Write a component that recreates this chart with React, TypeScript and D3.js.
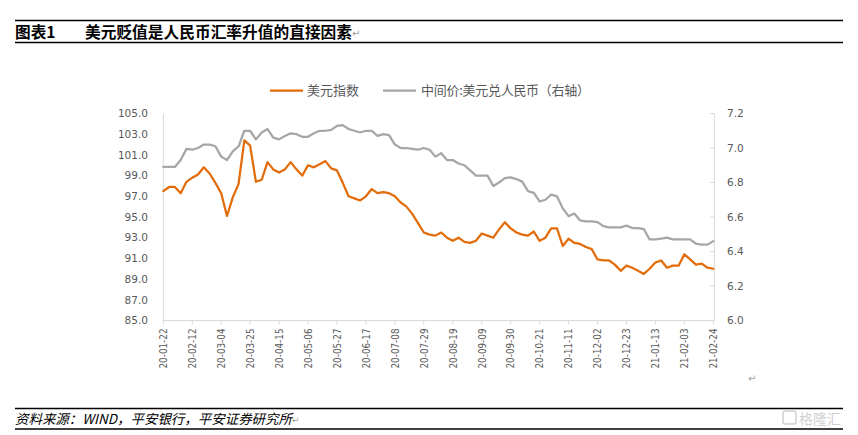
import React from "react";
import * as d3 from "d3";

const W = 858;
const H = 435;

const START = "2020-01-22";
const END = "2021-02-24";

const X_TICKS = [
  "20-01-22", "20-02-12", "20-03-04", "20-03-25", "20-04-15", "20-05-06", "20-05-27",
  "20-06-17", "20-07-08", "20-07-29", "20-08-19", "20-09-09", "20-09-30", "20-10-21",
  "20-11-11", "20-12-02", "20-12-23", "21-01-13", "21-02-03", "21-02-24",
];
const LEFT_TICKS = [85, 87, 89, 91, 93, 95, 97, 99, 101, 103, 105];
const RIGHT_TICKS = [6.0, 6.2, 6.4, 6.6, 6.8, 7.0, 7.2];

// one reading every 3 weekdays, starting 2020-01-22
const SAMPLE_EVERY = 3;

const usdIndex = [
  97.5, 97.9, 97.9, 97.3, 98.4, 98.8, 99.1, 99.8, 99.2, 98.3,
  97.3, 95.1, 96.9, 98.2, 102.4, 101.9, 98.4, 98.6, 100.3, 99.6,
  99.3, 99.6, 100.3, 99.6, 99.0, 100.0, 99.8, 100.1, 100.4, 99.7,
  99.5, 98.3, 97.0, 96.8, 96.6, 97.0, 97.7, 97.3, 97.4, 97.3,
  97.0, 96.4, 96.0, 95.3, 94.4, 93.5, 93.3, 93.2, 93.5, 93.0,
  92.7, 93.0, 92.6, 92.5, 92.7, 93.4, 93.2, 93.0, 93.8, 94.5,
  93.9, 93.5, 93.3, 93.2, 93.6, 92.7, 93.0, 93.9, 93.9, 92.2,
  92.9, 92.5, 92.4, 92.1, 91.9, 90.9, 90.8, 90.8, 90.4, 89.8,
  90.3, 90.1, 89.8, 89.5, 90.0, 90.6, 90.8, 90.1, 90.3, 90.3,
  91.4, 90.9, 90.4, 90.5, 90.1, 90.0,
];

const usdCny = [
  6.89, 6.89, 6.89, 6.93, 6.995, 6.99, 7.0, 7.02, 7.02, 7.01,
  6.95, 6.93, 6.98, 7.01, 7.1, 7.1, 7.05, 7.09, 7.11, 7.06,
  7.05, 7.07, 7.085, 7.08, 7.065, 7.065, 7.085, 7.1, 7.1, 7.105,
  7.128, 7.133, 7.11, 7.1, 7.09, 7.1, 7.1, 7.07, 7.08, 7.075,
  7.02, 7.0, 7.0, 6.995, 6.99, 7.0, 6.99, 6.95, 6.97, 6.93,
  6.93, 6.91, 6.9, 6.87, 6.84, 6.84, 6.84, 6.78, 6.8, 6.825,
  6.83, 6.82, 6.805, 6.75, 6.74, 6.69, 6.7, 6.73, 6.72, 6.65,
  6.605, 6.62, 6.58, 6.575, 6.575, 6.57, 6.547, 6.54, 6.54, 6.54,
  6.55, 6.536, 6.536, 6.53, 6.47, 6.47, 6.475, 6.48, 6.47, 6.47,
  6.47, 6.47, 6.445, 6.44, 6.44, 6.46,
];

const PLOT = { left: 163.3, right: 714.3, top: 113.5, bottom: 320.5 };
const ORANGE = "#E36C0A";
const GRAY = "#A6A6A6";
const AXIS = "#D9D9D9";
const LABEL = "#595959";
const CJK = "'Noto Sans CJK SC', 'Noto Sans', sans-serif";

const fmt = d3.timeFormat("%y-%m-%d");
const parse = d3.timeParse("%Y-%m-%d");

export default function App() {
  const days = d3.timeDay
    .range(parse(START)!, d3.timeDay.offset(parse(END)!, 1))
    .filter((d) => d.getDay() !== 0 && d.getDay() !== 6)
    .map(fmt);

  const x = d3.scalePoint<string>().domain(days).range([PLOT.left, PLOT.right - 1]);
  const yL = d3.scaleLinear().domain([85, 105]).range([PLOT.bottom, PLOT.top]);
  const yR = d3.scaleLinear().domain([6.0, 7.2]).range([PLOT.bottom, PLOT.top]);

  const px = (k: number) => x(days[Math.min(days.length - 1, k * SAMPLE_EVERY)])!;
  const lineL = d3.line<number>().x((_, k) => px(k)).y((v) => yL(v));
  const lineR = d3.line<number>().x((_, k) => px(k)).y((v) => yR(v));

  return (
    <div style={{ position: "fixed", left: 0, top: 0, background: "#fff" }}>
      <svg width={W} height={H} style={{ display: "block" }}>
        <rect width={W} height={H} fill="#fff" />

        {/* title block */}
        <line x1={15} x2={843} y1={20.5} y2={20.5} stroke="#000" strokeWidth={1.5} />
        <line x1={15} x2={843} y1={42.5} y2={42.5} stroke="#000" strokeWidth={1.5} />
        <text x={15} y={37.5} fontFamily={CJK} fontWeight="bold" fontSize={15.7} fill="#000">
          图表1
        </text>
        <text
          x={85}
          y={37.5}
          fontFamily={CJK}
          fontWeight="bold"
          fontSize={15.7}
          textLength={267}
          lengthAdjust="spacingAndGlyphs"
          fill="#000"
        >
          美元贬值是人民币汇率升值的直接因素
        </text>
        <text x={352} y={37} fontFamily="DejaVu Sans" fontSize={10} fill="#A0A0A0">
          ↵
        </text>

        {/* legend */}
        <line x1={270} x2={303} y1={90.5} y2={90.5} stroke={ORANGE} strokeWidth={2.25} />
        <text x={307} y={95} fontFamily={CJK} fontSize={13} fill={LABEL}>
          美元指数
        </text>
        <line x1={383} x2={416} y1={90.5} y2={90.5} stroke={GRAY} strokeWidth={2.25} />
        <text
          x={421}
          y={95}
          fontFamily={CJK}
          fontSize={13}
          textLength={169}
          lengthAdjust="spacing"
          fill={LABEL}
        >
          中间价:美元兑人民币（右轴）
        </text>

        {/* axes */}
        <line x1={PLOT.left} x2={PLOT.left} y1={PLOT.top} y2={PLOT.bottom} stroke={AXIS} />
        <line x1={PLOT.right} x2={PLOT.right} y1={PLOT.top} y2={PLOT.bottom} stroke={AXIS} />
        <line x1={PLOT.left} x2={PLOT.right} y1={PLOT.bottom} y2={PLOT.bottom} stroke={AXIS} />

        {LEFT_TICKS.map((t) => (
          <text
            key={`l-${t}`}
            x={148}
            y={yL(t)}
            dy="0.36em"
            textAnchor="end"
            fontFamily="DejaVu Sans"
            fontSize={10.5}
            fill={LABEL}
          >
            {t.toFixed(1)}
          </text>
        ))}

        {RIGHT_TICKS.map((t) => (
          <g key={`r-${t}`}>
            <line x1={PLOT.right - 4} x2={PLOT.right} y1={yR(t)} y2={yR(t)} stroke={AXIS} />
            <text
              x={727}
              y={yR(t)}
              dy="0.36em"
              fontFamily="DejaVu Sans"
              fontSize={10.5}
              fill={LABEL}
            >
              {t.toFixed(1)}
            </text>
          </g>
        ))}

        {X_TICKS.map((t) => {
          const xx = x(t)!;
          return (
            <g key={`x-${t}`}>
              <line x1={xx} x2={xx} y1={PLOT.bottom} y2={PLOT.bottom + 4} stroke={AXIS} />
              <text
                transform={`translate(${xx},328.5) rotate(-90)`}
                textAnchor="end"
                dy="0.36em"
                fontFamily="DejaVu Sans"
                fontSize={10.5}
                textLength={40}
                lengthAdjust="spacingAndGlyphs"
                fill={LABEL}
              >
                {t}
              </text>
            </g>
          );
        })}

        {/* series */}
        <path
          d={lineL(usdIndex) ?? ""}
          fill="none"
          stroke={ORANGE}
          strokeWidth={2.25}
          strokeLinejoin="round"
          strokeLinecap="round"
        />
        <path
          d={lineR(usdCny) ?? ""}
          fill="none"
          stroke={GRAY}
          strokeWidth={2.25}
          strokeLinejoin="round"
          strokeLinecap="round"
        />

        <text x={748} y={382} fontFamily="DejaVu Sans" fontSize={10} fill="#A0A0A0">
          ↵
        </text>

        {/* source */}
        <line x1={15} x2={843} y1={408.5} y2={408.5} stroke="#000" strokeWidth={1.3} />
        <line x1={15} x2={843} y1={429} y2={429} stroke="#000" strokeWidth={1.3} />
        <text
          x={15}
          y={424}
          fontFamily={CJK}
          fontStyle="italic"
          fontSize={13.5}
          textLength={277}
          lengthAdjust="spacingAndGlyphs"
          fill="#000"
        >
          资料来源：WIND，平安银行，平安证券研究所
        </text>
        <text x={292} y={423} fontFamily="DejaVu Sans" fontSize={9} fill="#A0A0A0">
          ↵
        </text>

        {/* watermark */}
        <rect x={783} y={411} width={13} height={13} rx={2} fill="none" stroke="#D0D0D0" strokeWidth={1.5} />
        <text x={799} y={424} fontFamily={CJK} fontSize={14} fill="#D0D0D0">
          格隆汇
        </text>
      </svg>
    </div>
  );
}
